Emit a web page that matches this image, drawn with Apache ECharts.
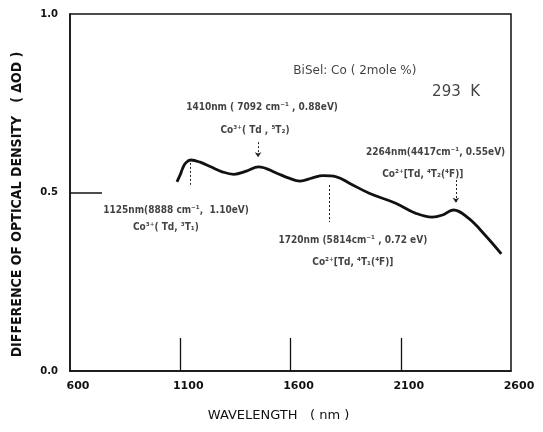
<!DOCTYPE html>
<html>
<head>
<meta charset="utf-8">
<script src="https://cdn.jsdelivr.net/npm/echarts@6/dist/echarts.min.js"></script>
<style>
  html, body { margin: 0; padding: 0; background: #fff; }
  #chart { width: 543px; height: 432px; }
</style>
</head>
<body>
<div id="chart"></div>
<script>
// curve (wavelength nm, delta OD)
var wavelength = [1085, 1100, 1111, 1125, 1148, 1190, 1238, 1290, 1343, 1400, 1455, 1538, 1590, 1643, 1700, 1747, 1808, 1867, 1957, 2077, 2167, 2242, 2290, 2339, 2407, 2482, 2556];
var deltaOD = [0.530, 0.550, 0.568, 0.583, 0.591, 0.585, 0.572, 0.558, 0.551, 0.560, 0.572, 0.554, 0.541, 0.532, 0.541, 0.547, 0.544, 0.526, 0.498, 0.470, 0.442, 0.431, 0.437, 0.451, 0.428, 0.381, 0.328];

var xTicks = [600, 1100, 1600, 2100, 2600];
var yTicks = [0.0, 0.5, 1.0];
var xInnerTicks = [1100, 1600, 2100];
var yInnerTicks = [0.5];

// band assignments and where they sit on the plot (data units)
var noteText = [
  'BiSel: Co ( 2mole %)',
  '293  K',
  '1410nm ( 7092 cm\u207B\u00B9 , 0.88eV)',
  'Co\u00B3\u207A( Td , \u2075T\u2082)',
  '2264nm(4417cm\u207B\u00B9, 0.55eV)',
  'Co\u00B2\u207A[Td, \u2074T\u2082(\u2074F)]',
  '1125nm(8888 cm\u207B\u00B9,  1.10eV)',
  'Co\u00B3\u207A( Td, \u00B3T\u2081)',
  '1720nm (5814cm\u207B\u00B9 , 0.72 eV)',
  'Co\u00B2\u207A[Td, \u2074T\u2081(\u2074F)]'
];
var noteX = [1892, 2351, 1471, 1439, 2258, 2200, 1081, 1035, 1883, 1883];
var noteY = [0.840, 0.781, 0.739, 0.675, 0.613, 0.552, 0.451, 0.401, 0.367, 0.305];

// dashed pointers to the bands
var markX = [1144, 1453, 1775, 2350];
var markTop = [0.583, 0.641, 0.521, 0.535];
var markBottom = [0.521, 0.599, 0.417, 0.471];
var markArrow = [false, true, false, true];

var notes = noteText.map(function (t, i) { return [noteX[i], noteY[i], t]; });
var pointers = markX.map(function (x, i) {
  return [
    { coord: [x, markTop[i]], symbol: 'none' },
    { coord: [x, markBottom[i]], symbol: markArrow[i] ? 'arrow' : 'none', symbolSize: 5 }
  ];
});

var font = 'DejaVu Sans';

var option = {
  animation: false,
  backgroundColor: '#fff',
  grid: {
    left: 70, right: 32, top: 14, bottom: 61,
    show: true,
    borderColor: '#111',
    borderWidth: 1.5
  },
  xAxis: {
    type: 'value',
    min: 600, max: 2600, interval: 500,
    name: 'WAVELENGTH   ( nm )',
    nameLocation: 'middle',
    nameGap: 38,
    nameTextStyle: { color: '#111', fontFamily: 'DejaVu Sans', fontSize: 13, padding: [0, 24, 0, 0] },
    axisLine: { show: true, onZero: false, lineStyle: { color: '#111', width: 1.5 } },
    axisTick: { show: true, inside: true, length: 33, customValues: xInnerTicks, lineStyle: { color: '#111', width: 1.3 } },
    axisLabel: {
      color: '#111', fontFamily: font, fontSize: 11, fontWeight: 'bold', margin: 10,
      padding: [0, 0, 0, 16],
      formatter: function (v) { return xTicks.indexOf(v) >= 0 ? String(v) : ''; }
    },
    splitLine: { show: false }
  },
  yAxis: {
    type: 'value',
    min: 0, max: 1, interval: 0.5,
    name: 'DIFFERENCE OF OPTICAL DENSITY   ( \u0394OD )',
    nameLocation: 'middle',
    nameRotate: 90,
    nameGap: 46,
    nameTextStyle: { color: '#111', fontFamily: 'DejaVu Sans Condensed', fontSize: 14, fontWeight: 'bold', padding: [0, 24, 0, 0] },
    axisLine: { show: true, lineStyle: { color: '#111', width: 1.5 } },
    axisTick: { show: true, inside: true, length: 32, customValues: yInnerTicks, lineStyle: { color: '#111', width: 1.5 } },
    axisLabel: {
      color: '#111', fontFamily: font, fontSize: 10, fontWeight: 'bold', margin: 12,
      formatter: function (v) { return yTicks.indexOf(v) >= 0 ? v.toFixed(1) : ''; }
    },
    splitLine: { show: false }
  },
  series: [
    {
      name: 'OD',
      type: 'line',
      smooth: 0.4,
      showSymbol: false,
      lineStyle: { color: '#111', width: 2.8 },
      data: wavelength.map(function (w, i) { return [w, deltaOD[i]]; }),
      markLine: {
        silent: true,
        symbol: 'none',
        label: { show: false },
        lineStyle: { color: '#222', width: 1, type: [2, 2] },
        data: pointers
      }
    },
    {
      name: 'notes',
      type: 'scatter',
      symbolSize: 1,
      itemStyle: { color: 'rgba(0,0,0,0)' },
      label: {
        show: true,
        position: 'inside',
        color: '#111',
        fontFamily: 'DejaVu Sans Condensed',
        fontSize: 10,
        fontWeight: 'bold',
        formatter: function (p) { return p.value[2]; }
      },
      data: notes.map(function (n, i) {
        var d = { value: n };
        if (i === 0) d.label = { fontSize: 12, fontWeight: 'normal', fontFamily: 'DejaVu Sans' };
        if (i === 1) d.label = { fontSize: 15, fontWeight: 'normal', fontFamily: 'DejaVu Sans' };
        return d;
      })
    }
  ]
};

var chart = echarts.init(document.getElementById('chart'));
chart.setOption(option);
</script>
</body>
</html>
